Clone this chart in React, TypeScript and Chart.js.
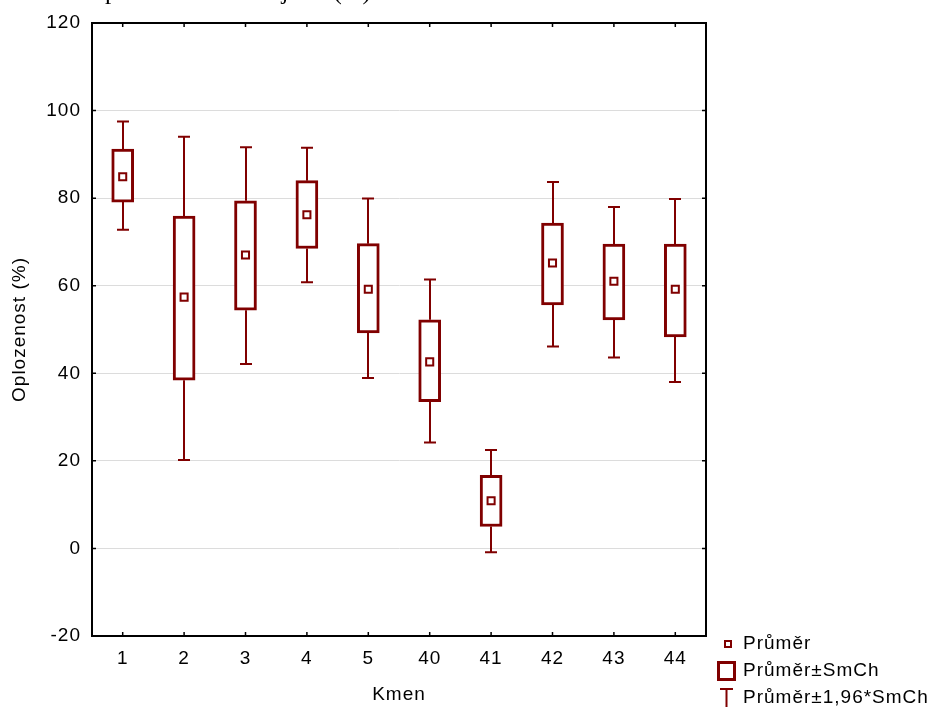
import React, { useEffect, useRef } from "react";
import { Chart, registerables } from "chart.js";

Chart.register(...registerables);

const categories = ["1", "2", "3", "4", "5", "40", "41", "42", "43", "44"];
const means = [84.9, 57.4, 67.0, 76.2, 59.2, 42.6, 10.9, 65.2, 61.0, 59.2];
const boxLow = [79.1, 38.4, 54.4, 68.5, 49.2, 33.5, 5.0, 55.6, 52.2, 48.3];
const boxHigh = [91.2, 75.9, 79.4, 84.0, 69.6, 52.2, 16.7, 74.3, 69.5, 69.5];
const whiskLow = [72.8, 20.2, 42.1, 60.8, 38.9, 24.2, -0.9, 46.1, 43.6, 38.0];
const whiskHigh = [97.5, 94.0, 91.6, 91.5, 79.9, 61.4, 22.5, 83.7, 78.0, 79.8];
const yTicks = { min: -20, max: 120, step: 20 };

const legendLabels = ["Průměr", "Průměr±SmCh", "Průměr±1,96*SmCh"];
const xTitle = "Kmen";
const yTitle = "Oplozenost (%)";
const topTitle = "Oplozenost kmenů jiker (%)";

const RED = "#800000";
const FONT = '"Liberation Sans", Arial, sans-serif';
const SPACING = "1px";

const boxPlugin = {
  id: "boxExtras",
  beforeLayout(chart: any) {
    chart.ctx.letterSpacing = SPACING;
  },
  beforeDraw(chart: any) {
    chart.ctx.letterSpacing = SPACING;
  },
  beforeDatasetsDraw(chart: any) {
    const ctx = chart.ctx;
    const xs = chart.scales.x;
    const ys = chart.scales.y;
    ctx.save();
    ctx.strokeStyle = RED;
    ctx.lineWidth = 2;
    for (let i = 0; i < categories.length; i++) {
      const x = Math.round(xs.getPixelForValue(i));
      const yH = ys.getPixelForValue(whiskHigh[i]);
      const yBH = ys.getPixelForValue(boxHigh[i]);
      const yL = ys.getPixelForValue(whiskLow[i]);
      const yBL = ys.getPixelForValue(boxLow[i]);
      ctx.beginPath();
      ctx.moveTo(x, yBH);
      ctx.lineTo(x, yH);
      ctx.moveTo(x - 6, yH);
      ctx.lineTo(x + 6, yH);
      ctx.moveTo(x, yBL);
      ctx.lineTo(x, yL);
      ctx.moveTo(x - 6, yL);
      ctx.lineTo(x + 6, yL);
      ctx.stroke();
    }
    ctx.restore();
  },
  afterDraw(chart: any) {
    const ctx = chart.ctx;
    const { left, right, top, bottom } = chart.chartArea;
    const xs = chart.scales.x;
    const ys = chart.scales.y;
    ctx.save();
    // frame
    ctx.strokeStyle = "#000";
    ctx.lineWidth = 2;
    ctx.strokeRect(left, top, right - left, bottom - top);
    // inward ticks
    ctx.lineWidth = 1.5;
    ctx.beginPath();
    ys.ticks.forEach((t: any) => {
      const y = ys.getPixelForValue(t.value);
      ctx.moveTo(left - 1, y);
      ctx.lineTo(left + 4, y);
      ctx.moveTo(right - 4, y);
      ctx.lineTo(right, y);
    });
    for (let i = 0; i < categories.length; i++) {
      const x = xs.getPixelForValue(i);
      ctx.moveTo(x, top);
      ctx.lineTo(x, top + 4);
      ctx.moveTo(x, bottom - 4);
      ctx.lineTo(x, bottom);
    }
    ctx.stroke();

    // legend
    ctx.letterSpacing = SPACING;
    ctx.fillStyle = "#000";
    ctx.font = "19px " + FONT;
    ctx.textBaseline = "middle";
    ctx.textAlign = "left";
    const tx = 743;
    const rows = [644, 671, 698];
    ctx.fillText(legendLabels[0], tx, rows[0]);
    ctx.fillText(legendLabels[1], tx, rows[1]);
    ctx.fillText(legendLabels[2], tx, rows[2]);
    ctx.strokeStyle = RED;
    ctx.fillStyle = "#fff";
    ctx.lineWidth = 2;
    ctx.fillRect(725, 641, 6, 6);
    ctx.strokeRect(725, 641, 6, 6);
    ctx.lineWidth = 3;
    ctx.strokeRect(718.5, 662.5, 16, 17);
    ctx.lineWidth = 2;
    ctx.beginPath();
    ctx.moveTo(720, 689);
    ctx.lineTo(733, 689);
    ctx.moveTo(726.5, 689);
    ctx.lineTo(726.5, 710);
    ctx.stroke();

    // clipped title at top
    ctx.fillStyle = "#000";
    ctx.letterSpacing = "0px";
    ctx.font = '25px "Liberation Serif", "Times New Roman", serif';
    ctx.textBaseline = "alphabetic";
    ctx.fillText(topTitle, 87, -1);
    ctx.restore();
  },
};

export default function App() {
  const ref = useRef<HTMLCanvasElement | null>(null);
  useEffect(() => {
    if (!ref.current) return;
    const chart = new Chart(ref.current, {
      type: "bar",
      data: {
        labels: categories,
        datasets: [
          {
            type: "line",
            label: legendLabels[0],
            data: means,
            showLine: false,
            pointStyle: "rect",
            pointRadius: 5,
            pointBorderWidth: 2,
            pointBackgroundColor: "#fff",
            pointBorderColor: RED,
            order: 0,
          } as any,
          {
            type: "bar",
            label: legendLabels[1],
            data: boxLow.map((v, i) => [v, boxHigh[i]]),
            backgroundColor: "#fff",
            borderColor: RED,
            borderWidth: 3,
            borderSkipped: false,
            barThickness: 22,
            order: 1,
          } as any,
        ],
      },
      options: {
        responsive: false,
        animation: false,
        layout: { padding: { top: 23, right: 225, left: 0, bottom: 0 } },
        plugins: { legend: { display: false }, tooltip: { enabled: false }, title: { display: false } },
        scales: {
          x: {
            type: "category",
            offset: true,
            grid: { display: false, drawTicks: false },
            border: { display: true, color: "#000", width: 2 },
            ticks: { color: "#000", font: { family: FONT, size: 19 }, padding: 11, maxRotation: 0 },
            title: { display: true, text: xTitle, color: "#000", font: { family: FONT, size: 19 }, padding: { top: 0, bottom: 1 } },
            afterFit: (s: any) => {
              s.height = 71;
            },
          },
          y: {
            min: yTicks.min,
            max: yTicks.max,
            ticks: { stepSize: yTicks.step, color: "#000", font: { family: FONT, size: 19 }, padding: 11 },
            grid: { color: "#dcdcdc", lineWidth: 1, drawTicks: false },
            border: { display: true, color: "#000", width: 2 },
            title: { display: true, text: yTitle, color: "#000", font: { family: FONT, size: 19 }, padding: { top: 8, bottom: 0 } },
            afterFit: (s: any) => {
              s.width = 92;
            },
          },
        },
      },
      plugins: [boxPlugin],
    });
    return () => chart.destroy();
  }, []);
  return (
    <div style={{ position: "fixed", left: 0, top: 0, width: 931, height: 707, background: "#fff" }}>
      <canvas ref={ref} width={931} height={707} />
    </div>
  );
}
